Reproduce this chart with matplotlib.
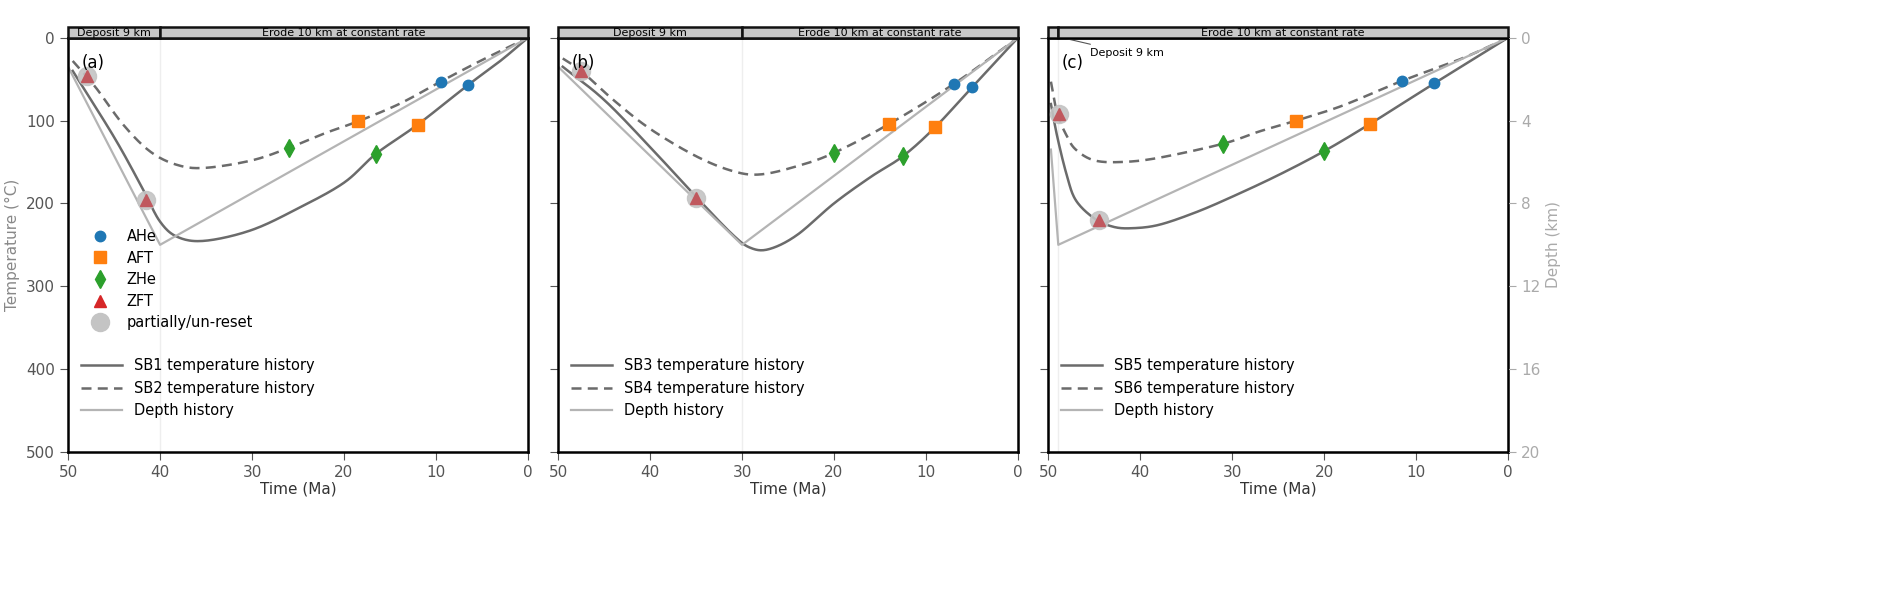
import numpy as np
import matplotlib.pyplot as plt
from matplotlib.lines import Line2D
from matplotlib.patches import Rectangle

# temperature histories (time Ma, temperature degC)
sb1_t = [49.5, 45, 42, 40, 38, 35, 30, 25, 20, 16.5, 12, 6.5, 3, 0]
sb1_T = [40, 120, 180, 222, 241, 245, 232, 206, 175, 140, 105, 57, 28, 0]
sb2_t = [49.5, 47, 44, 41, 38, 35, 30, 26, 22, 18.5, 14, 9.5, 5, 0]
sb2_T = [28, 60, 105, 138, 154, 157, 148, 133, 115, 101, 80, 53, 27, 0]
sb3_t = [49.5, 45, 40, 35, 31, 29, 27, 24, 20, 16, 12.5, 9, 5, 0]
sb3_T = [35, 75, 132, 192, 238, 254, 255, 238, 200, 168, 143, 108, 60, 0]
sb4_t = [49.5, 47.5, 44, 40, 35, 31, 28, 24, 20, 14, 7, 0]
sb4_T = [25, 40, 75, 110, 143, 161, 165, 155, 139, 104, 56, 0]
sb5_t = [49.7, 49, 48, 47, 45, 43, 41, 38, 34, 30, 25, 20, 15, 8, 0]
sb5_T = [80, 120, 165, 196, 218, 228, 230, 226, 211, 192, 166, 137, 104, 55, 0]
sb6_t = [49.7, 49, 48, 47, 45, 42, 38, 31, 27, 23, 18, 11.5, 5, 0]
sb6_T = [53, 92, 118, 135, 148, 150, 145, 128, 113, 100, 82, 52, 25, 0]

# depth histories (time Ma, depth km)
dep_a_t, dep_a_z = [50, 40, 0], [1.4, 10, 0]
dep_b_t, dep_b_z = [50, 30, 0], [1.4, 10, 0]
dep_c_t, dep_c_z = [49.7, 48.9, 0], [5.4, 10, 0]

# thermochronometer ages (time, temperature)
ahe = [[(9.5, 53), (6.5, 57)], [(7, 56), (5, 60)], [(11.5, 52), (8, 55)]]
aft = [[(18.5, 101), (12, 105)], [(14, 104), (9, 108)], [(23, 100), (15, 104)]]
zhe = [[(26, 133), (16.5, 140)], [(20, 139), (12.5, 143)], [(31, 128), (20, 137)]]
zft = [[(48, 46), (41.5, 196)], [(47.5, 40), (35, 194)], [(48.8, 92), (44.5, 220)]]

boundary = [40, 30, 48.9]
panel_labels = ['(a)', '(b)', '(c)']
names = [('SB1', 'SB2'), ('SB3', 'SB4'), ('SB5', 'SB6')]
temps = [(sb1_t, sb1_T, sb2_t, sb2_T), (sb3_t, sb3_T, sb4_t, sb4_T), (sb5_t, sb5_T, sb6_t, sb6_T)]
depths = [(dep_a_t, dep_a_z), (dep_b_t, dep_b_z), (dep_c_t, dep_c_z)]

dark = '#6b6b6b'
light = '#b4b4b4'
tick_col = '#555555'


def smooth(x, y, n=20):
    # centripetal-free simple Catmull-Rom through the read points, for drawing only
    p = np.column_stack([x, y]).astype(float)
    p = np.vstack([2 * p[0] - p[1], p, 2 * p[-1] - p[-2]])
    out = []
    s = np.linspace(0, 1, n, endpoint=False)[:, None]
    for k in range(1, len(p) - 2):
        p0, p1, p2, p3 = p[k - 1], p[k], p[k + 1], p[k + 2]
        out.append(0.5 * (2 * p1 + (-p0 + p2) * s + (2 * p0 - 5 * p1 + 4 * p2 - p3) * s ** 2
                          + (-p0 + 3 * p1 - 3 * p2 + p3) * s ** 3))
    out.append(p[-2][None, :])
    out = np.vstack(out)
    return out[:, 0], out[:, 1]


fig = plt.figure(figsize=(18.92, 6.09), dpi=100)
lefts = [0.036, 0.295, 0.554]
for i in range(3):
    ax = fig.add_axes([lefts[i], 0.258, 0.243, 0.68])
    t1, T1, t2, T2 = temps[i]
    ax.plot(*smooth(t1, T1), color=dark, lw=1.8)
    ax.plot(*smooth(t2, T2), color=dark, lw=1.8, ls=(0, (4, 2.5)))
    dt, dz = depths[i]
    ax.plot(dt, [z * 25 for z in dz], color=light, lw=1.6)
    ax.axvline(boundary[i], color='#eeeeee', lw=1, zorder=0)

    for (x, y) in zft[i]:
        ax.plot(x, y, 'o', ms=13, color='#c4c4c4', alpha=0.9, zorder=3)
        ax.plot(x, y, '^', ms=8, color='#c0585e', zorder=4)
    for (x, y) in ahe[i]:
        ax.plot(x, y, 'o', ms=7.5, color='#1f77b4', zorder=4)
    for (x, y) in aft[i]:
        ax.plot(x, y, 's', ms=8, color='#ff7f0e', zorder=4)
    for (x, y) in zhe[i]:
        ax.plot(x, y, 'd', ms=9, color='#2ca02c', zorder=4)

    ax.set_xlim(50, 0)
    ax.set_ylim(500, 0)
    ax.set_xticks([50, 40, 30, 20, 10, 0])
    ax.set_yticks([0, 100, 200, 300, 400, 500])
    ax.tick_params(colors=tick_col, labelsize=11, length=6)
    for s in ax.spines.values():
        s.set_linewidth(1.8)
    ax.set_xlabel('Time (Ma)', fontsize=11, color='#333333', labelpad=1)
    if i == 0:
        ax.set_ylabel('Temperature (°C)', fontsize=11, color='#888888')
    else:
        ax.set_yticklabels([])
    ax.text(0.03, 0.96, panel_labels[i], transform=ax.transAxes, fontsize=12, va='top')

    # header bar
    hdr = fig.add_axes([lefts[i], 0.938, 0.243, 0.018])
    hdr.set_xlim(50, 0)
    hdr.set_ylim(0, 1)
    hdr.axis('off')
    hdr.add_patch(Rectangle((boundary[i], 0), 50 - boundary[i], 1, fc='#c8c8c8', ec='#111111',
                            lw=1.8, clip_on=False))
    hdr.add_patch(Rectangle((0, 0), boundary[i], 1, fc='#c8c8c8', ec='#111111', lw=1.8, clip_on=False))
    hdr.text(boundary[i] / 2, 0.45, 'Erode 10 km at constant rate', ha='center', va='center', fontsize=8)
    if i < 2:
        hdr.text((50 + boundary[i]) / 2, 0.45, 'Deposit 9 km', ha='center', va='center', fontsize=8)
    else:
        ax.annotate('Deposit 9 km', xy=(49.6, -3), xytext=(45.5, 18), fontsize=8, va='center',
                    arrowprops=dict(arrowstyle='-', color='#555555', lw=0.8), annotation_clip=False)
        ax2 = ax.twinx()
        ax2.set_ylim(20, 0)
        ax2.set_yticks([0, 4, 8, 12, 16, 20])
        ax2.tick_params(colors='#aaaaaa', labelsize=11, length=6)
        ax2.set_ylabel('Depth (km)', fontsize=11, color='#aaaaaa')

    line_handles = [Line2D([], [], color=dark, lw=1.8),
                    Line2D([], [], color=dark, lw=1.8, ls=(0, (4, 2.5))),
                    Line2D([], [], color=light, lw=1.6)]
    leg = ax.legend(line_handles, [names[i][0] + ' temperature history', names[i][1] + ' temperature history',
                                   'Depth history'], loc='lower left', bbox_to_anchor=(0.0, 0.05),
                    frameon=False, fontsize=10.5, handlelength=2.8)
    if i == 0:
        ax.add_artist(leg)
        mk = [Line2D([], [], ls='', marker='o', ms=7.5, color='#1f77b4'),
              Line2D([], [], ls='', marker='s', ms=8, color='#ff7f0e'),
              Line2D([], [], ls='', marker='d', ms=9, color='#2ca02c'),
              Line2D([], [], ls='', marker='^', ms=8, color='#d62728'),
              Line2D([], [], ls='', marker='o', ms=13, color='#c4c4c4')]
        ax.legend(mk, ['AHe', 'AFT', 'ZHe', 'ZFT', 'partially/un-reset'], loc='upper left',
                  bbox_to_anchor=(0.01, 0.57), frameon=False, fontsize=10.5, labelspacing=0.45)

fig.savefig('out.png', dpi=100)
